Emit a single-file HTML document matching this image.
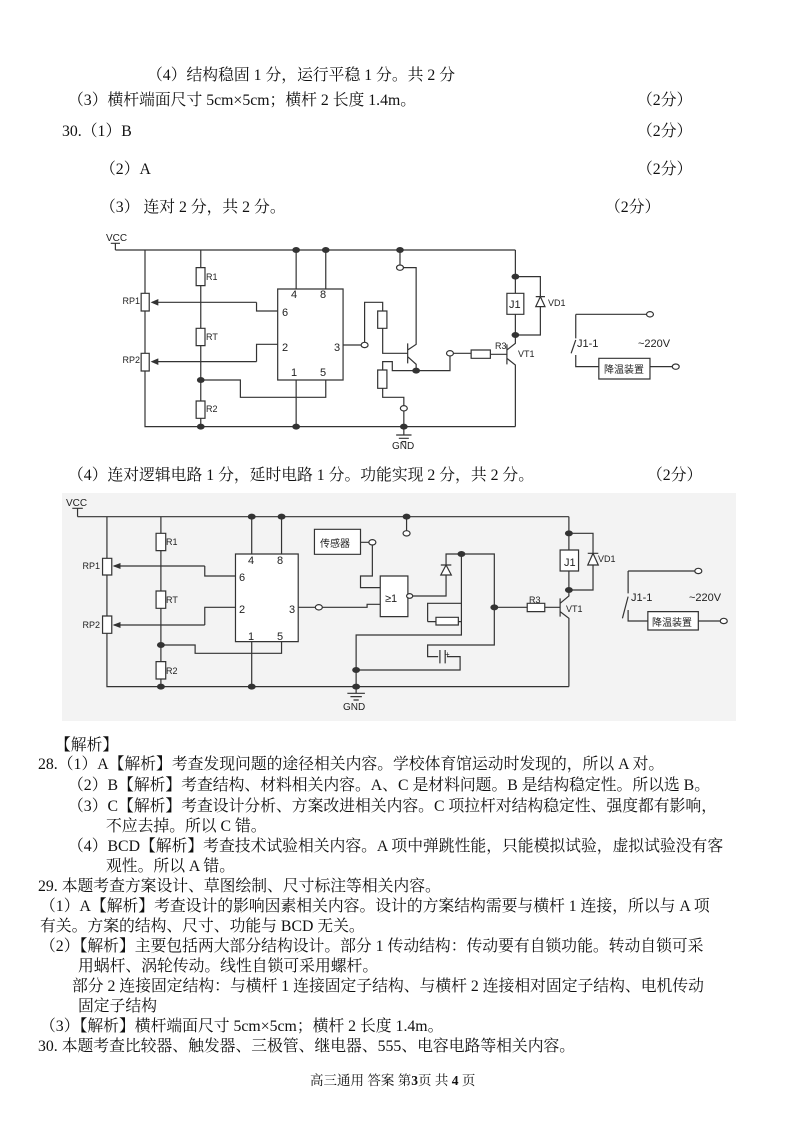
<!DOCTYPE html>
<html><head><meta charset="utf-8"><style>
html,body{margin:0;padding:0;background:#fff}
body{width:800px;height:1129px;position:relative;overflow:hidden;font-family:"Liberation Serif","Noto Serif CJK SC",serif;color:#111}
.t{position:absolute;white-space:nowrap;font-size:15.8px;line-height:18px}
svg{position:absolute;left:0;top:0}
svg text{font-family:"Liberation Sans","Noto Sans CJK SC",sans-serif;fill:#222}
</style></head><body>
<div class="t" style="left:147px;top:67px">（4）结构稳固 1 分，运行平稳 1 分。共 2 分</div>
<div class="t" style="left:68px;top:92px">（3）横杆端面尺寸 5cm×5cm；横杆 2 长度 1.4m。</div>
<div class="t" style="left:637px;top:92px">（2分）</div>
<div class="t" style="left:62px;top:123px">30.（1）B</div>
<div class="t" style="left:637px;top:123px">（2分）</div>
<div class="t" style="left:100px;top:161px">（2）A</div>
<div class="t" style="left:637px;top:161px">（2分）</div>
<div class="t" style="left:100px;top:199px">（3） 连对 2 分，共 2 分。</div>
<div class="t" style="left:605px;top:199px">（2分）</div>
<div class="t" style="left:68px;top:467px">（4）连对逻辑电路 1 分，延时电路 1 分。功能实现 2 分，共 2 分。</div>
<div class="t" style="left:647px;top:467px">（2分）</div>
<div style="position:absolute;left:62px;top:493px;width:674px;height:228px;background:#f3f3f3"></div>
<div class="t" style="left:55px;top:737px">【解析】</div>
<div class="t" style="left:38px;top:756px">28.（1）A【解析】考查发现问题的途径相关内容。学校体育馆运动时发现的，所以 A 对。</div>
<div class="t" style="left:68px;top:777px">（2）B【解析】考查结构、材料相关内容。A、C 是材料问题。B 是结构稳定性。所以选 B。</div>
<div class="t" style="left:68px;top:798px">（3）C【解析】考查设计分析、方案改进相关内容。C 项拉杆对结构稳定性、强度都有影响，</div>
<div class="t" style="left:106px;top:818px">不应去掉。所以 C 错。</div>
<div class="t" style="left:68px;top:838px">（4）BCD【解析】考查技术试验相关内容。A 项中弹跳性能，只能模拟试验，虚拟试验没有客</div>
<div class="t" style="left:106px;top:858px">观性。所以 A 错。</div>
<div class="t" style="left:38px;top:878px">29. 本题考查方案设计、草图绘制、尺寸标注等相关内容。</div>
<div class="t" style="left:40px;top:898px">（1）A【解析】考查设计的影响因素相关内容。设计的方案结构需要与横杆 1 连接，所以与 A 项</div>
<div class="t" style="left:40px;top:918px">有关。方案的结构、尺寸、功能与 BCD 无关。</div>
<div class="t" style="left:40px;top:938px">（2）【解析】主要包括两大部分结构设计。部分 1 传动结构：传动要有自锁功能。转动自锁可采</div>
<div class="t" style="left:78px;top:958px">用蜗杆、涡轮传动。线性自锁可采用螺杆。</div>
<div class="t" style="left:72px;top:978px">部分 2 连接固定结构：与横杆 1 连接固定子结构、与横杆 2 连接相对固定子结构、电机传动</div>
<div class="t" style="left:78px;top:998px">固定子结构</div>
<div class="t" style="left:40px;top:1018px">（3）【解析】横杆端面尺寸 5cm×5cm；横杆 2 长度 1.4m。</div>
<div class="t" style="left:38px;top:1038px">30. 本题考查比较器、触发器、三极管、继电器、555、电容电路等相关内容。</div>
<div class="t" style="left:310px;top:1072px;font-size:13.5px">高三通用 答案 第<b>3</b>页 共 <b>4</b> 页</div>

<svg width="800" height="1129" viewBox="0 0 800 1129">
<defs><marker id="ar" markerWidth="6" markerHeight="6" refX="5" refY="3" orient="auto"><path d="M0,0 L6,3 L0,6z" fill="#333"/></marker></defs>
<!-- circuit 1 -->
<g transform="translate(100,225) scale(0.3846,0.3333)" fill="none" stroke="#333" stroke-width="1.2">
<path vector-effect="non-scaling-stroke" d="M40,55V75 M28,55H52 M40,75H1080 M117,75V605H1080 M262,75V605 M510,75V192 M587,75V192 M510,465V605 M587,465V517H365V465H262 M407,232V258H462 M407,410V358H462 M632,360H688 M735,258V232H688V360 M735,310V385H800 M800,355V415 M800,375L822,358V128H780 M780,75V128 M800,395L822,418V437H910V385 M910,385H965 M1015,388H1058 M1058,358V418 M1058,375L1080,355V330 M1058,400L1080,420V605 M822,437H760V410H735V435 M735,490V517H790V550 M790,550V630 M1080,75V205 M1080,268V330H1145V245 M1080,155H1145V215 M1237,268H1430 M1237,268V340 M1237,345L1225,385 M1237,390V425H1297 M1430,425H1497 M770,630H810 M777,640H803 M784,650H796"/>
<path vector-effect="non-scaling-stroke" d="M407,232H135" marker-end="url(#ar)"/>
<path vector-effect="non-scaling-stroke" d="M407,410H135" marker-end="url(#ar)"/>
<rect vector-effect="non-scaling-stroke" x="107" y="205" width="21" height="53" fill="#fff"/>
<rect vector-effect="non-scaling-stroke" x="107" y="385" width="21" height="53" fill="#fff"/>
<rect vector-effect="non-scaling-stroke" x="250" y="128" width="23" height="54" fill="#fff"/>
<rect vector-effect="non-scaling-stroke" x="250" y="310" width="23" height="52" fill="#fff"/>
<rect vector-effect="non-scaling-stroke" x="250" y="528" width="23" height="52" fill="#fff"/>
<rect vector-effect="non-scaling-stroke" x="462" y="192" width="170" height="273" fill="#fff"/>
<rect vector-effect="non-scaling-stroke" x="722" y="258" width="24" height="52" fill="#fff"/>
<rect vector-effect="non-scaling-stroke" x="722" y="435" width="24" height="55" fill="#fff"/>
<rect vector-effect="non-scaling-stroke" x="965" y="375" width="50" height="25" fill="#fff"/>
<rect vector-effect="non-scaling-stroke" x="1058" y="205" width="44" height="63" fill="#fff"/>
<rect vector-effect="non-scaling-stroke" x="1297" y="400" width="133" height="62" fill="#fff"/>
<path vector-effect="non-scaling-stroke" d="M1133,245H1157L1145,215Z M1133,215H1157" fill="#fff"/>
<g fill="#333" stroke="none">
<ellipse cx="262" cy="465" rx="10" ry="9"/><ellipse cx="262" cy="605" rx="10" ry="9"/><ellipse cx="510" cy="75" rx="10" ry="9"/><ellipse cx="587" cy="75" rx="10" ry="9"/><ellipse cx="780" cy="75" rx="10" ry="9"/><ellipse cx="510" cy="605" rx="10" ry="9"/><ellipse cx="790" cy="605" rx="10" ry="9"/><ellipse cx="822" cy="437" rx="10" ry="9"/><ellipse cx="1080" cy="155" rx="10" ry="9"/><ellipse cx="1080" cy="330" rx="10" ry="9"/>
</g>
<g fill="#fff"><ellipse vector-effect="non-scaling-stroke" cx="688" cy="360" rx="9" ry="8"/><ellipse vector-effect="non-scaling-stroke" cx="780" cy="128" rx="9" ry="8"/><ellipse vector-effect="non-scaling-stroke" cx="910" cy="385" rx="9" ry="8"/><ellipse vector-effect="non-scaling-stroke" cx="790" cy="550" rx="9" ry="8"/><ellipse vector-effect="non-scaling-stroke" cx="1430" cy="268" rx="9" ry="8"/><ellipse vector-effect="non-scaling-stroke" cx="1497" cy="425" rx="9" ry="8"/></g>
</g>
<g font-size="9">
<text x="106" y="241" font-family="Liberation Serif" font-size="10">VCC</text>
<text x="140" y="304" text-anchor="end">RP1</text><text x="140" y="363" text-anchor="end">RP2</text>
<text x="206" y="280">R1</text><text x="206" y="340">RT</text><text x="206" y="412">R2</text>
<text x="495" y="349">R3</text><text x="518" y="357">VT1</text><text x="548" y="306">VD1</text>
</g>
<g font-size="11">
<text x="291" y="298">4</text><text x="320" y="298">8</text><text x="282" y="316">6</text><text x="282" y="351">2</text><text x="334" y="351">3</text><text x="291" y="376">1</text><text x="320" y="376">5</text>
<text x="509" y="308">J1</text><text x="577" y="347">J1-1</text><text x="638" y="347">~220V</text>
<text x="604" y="373" font-size="10">降温装置</text>
<text x="392" y="449" font-family="Liberation Serif" font-size="10">GND</text>
</g>

<!-- circuit 2 -->
<g transform="translate(60,490) scale(0.4387,0.3333)" fill="none" stroke="#333" stroke-width="1.2">
<path vector-effect="non-scaling-stroke" d="M40,55V80 M28,55H52 M40,80H1160 M107,80V590H1160 M230,80V590 M437,80V192 M505,80V192 M437,455V590 M505,455V490H308V465H230 M330,228V258H400 M330,405V352H400 M543,352H590 M590,352H700V343H730 M685,157H712V258H685V293H730 M800,318H880V255 M880,225V192H990V352 M990,352H1065 M1105,352H1140 M1140,325V380 M1140,340L1160,318V300 M1140,365L1160,385V590 M915,192V435H675V590 M838,395V340H915 M857,395H838 M908,395H915 M990,352V465H838V500H862 M882,500H912V540H675 M790,80V130 M1160,80V180 M1160,243V300H1215V225 M1160,130H1215V190 M1295,243H1455 M1295,243V310 M1295,320L1282,385 M1295,360V393H1340 M1455,393H1513 M655,610H695 M662,620H688 M669,630H681 M675,590V610"/>
<path vector-effect="non-scaling-stroke" d="M330,228H123" marker-end="url(#ar)"/>
<path vector-effect="non-scaling-stroke" d="M330,405H123" marker-end="url(#ar)"/>
<rect vector-effect="non-scaling-stroke" x="97" y="205" width="21" height="50" fill="#fff"/>
<rect vector-effect="non-scaling-stroke" x="97" y="378" width="21" height="52" fill="#fff"/>
<rect vector-effect="non-scaling-stroke" x="219" y="130" width="22" height="52" fill="#fff"/>
<rect vector-effect="non-scaling-stroke" x="219" y="303" width="22" height="52" fill="#fff"/>
<rect vector-effect="non-scaling-stroke" x="219" y="515" width="22" height="52" fill="#fff"/>
<rect vector-effect="non-scaling-stroke" x="400" y="192" width="143" height="263" fill="#fff"/>
<rect vector-effect="non-scaling-stroke" x="580" y="118" width="105" height="75" fill="#fff"/>
<rect vector-effect="non-scaling-stroke" x="730" y="258" width="63" height="122" fill="#fff"/>
<rect vector-effect="non-scaling-stroke" x="857" y="382" width="51" height="23" fill="#fff"/>
<rect vector-effect="non-scaling-stroke" x="1065" y="340" width="40" height="25" fill="#fff"/>
<rect vector-effect="non-scaling-stroke" x="1140" y="180" width="42" height="63" fill="#fff"/>
<rect vector-effect="non-scaling-stroke" x="1340" y="365" width="115" height="55" fill="#fff"/>
<path vector-effect="non-scaling-stroke" d="M868,255H892L880,225Z M868,225H892 M1203,225H1227L1215,190Z M1203,190H1227 M866,480V520 M878,480V520" fill="#fff"/>
<g fill="#333" stroke="none">
<ellipse cx="230" cy="465" rx="9" ry="9"/><ellipse cx="230" cy="590" rx="9" ry="9"/><ellipse cx="437" cy="80" rx="9" ry="9"/><ellipse cx="505" cy="80" rx="9" ry="9"/><ellipse cx="790" cy="80" rx="9" ry="9"/><ellipse cx="437" cy="590" rx="9" ry="9"/><ellipse cx="675" cy="590" rx="9" ry="9"/><ellipse cx="675" cy="540" rx="9" ry="9"/><ellipse cx="915" cy="192" rx="9" ry="9"/><ellipse cx="990" cy="352" rx="9" ry="9"/><ellipse cx="1160" cy="130" rx="9" ry="9"/><ellipse cx="1160" cy="300" rx="9" ry="9"/>
</g>
<g fill="#fff"><ellipse vector-effect="non-scaling-stroke" cx="590" cy="352" rx="8" ry="8"/><ellipse vector-effect="non-scaling-stroke" cx="712" cy="157" rx="8" ry="8"/><ellipse vector-effect="non-scaling-stroke" cx="790" cy="130" rx="8" ry="8"/><ellipse vector-effect="non-scaling-stroke" cx="797" cy="318" rx="7" ry="7"/><ellipse vector-effect="non-scaling-stroke" cx="1455" cy="243" rx="8" ry="8"/><ellipse vector-effect="non-scaling-stroke" cx="1513" cy="393" rx="8" ry="8"/></g>
</g>
<g font-size="9">
<text x="66" y="506" font-family="Liberation Serif" font-size="10">VCC</text>
<text x="100" y="569" text-anchor="end">RP1</text><text x="100" y="628" text-anchor="end">RP2</text>
<text x="166" y="545">R1</text><text x="166" y="603">RT</text><text x="166" y="674">R2</text>
<text x="529" y="603">R3</text><text x="566" y="612">VT1</text><text x="598" y="562">VD1</text>
<text x="445" y="657" font-size="8">+</text>
</g>
<g font-size="11">
<text x="248" y="564">4</text><text x="277" y="564">8</text><text x="239" y="581">6</text><text x="239" y="613">2</text><text x="289" y="613">3</text><text x="248" y="640">1</text><text x="277" y="640">5</text>
<text x="564" y="566">J1</text><text x="631" y="601">J1-1</text><text x="689" y="601">~220V</text>
<text x="652" y="626" font-size="10">降温装置</text>
<text x="320" y="547" font-size="10">传感器</text>
<text x="385" y="602">≥1</text>
<text x="343" y="710" font-family="Liberation Serif" font-size="10">GND</text>
</g>
</svg>
</body></html>
